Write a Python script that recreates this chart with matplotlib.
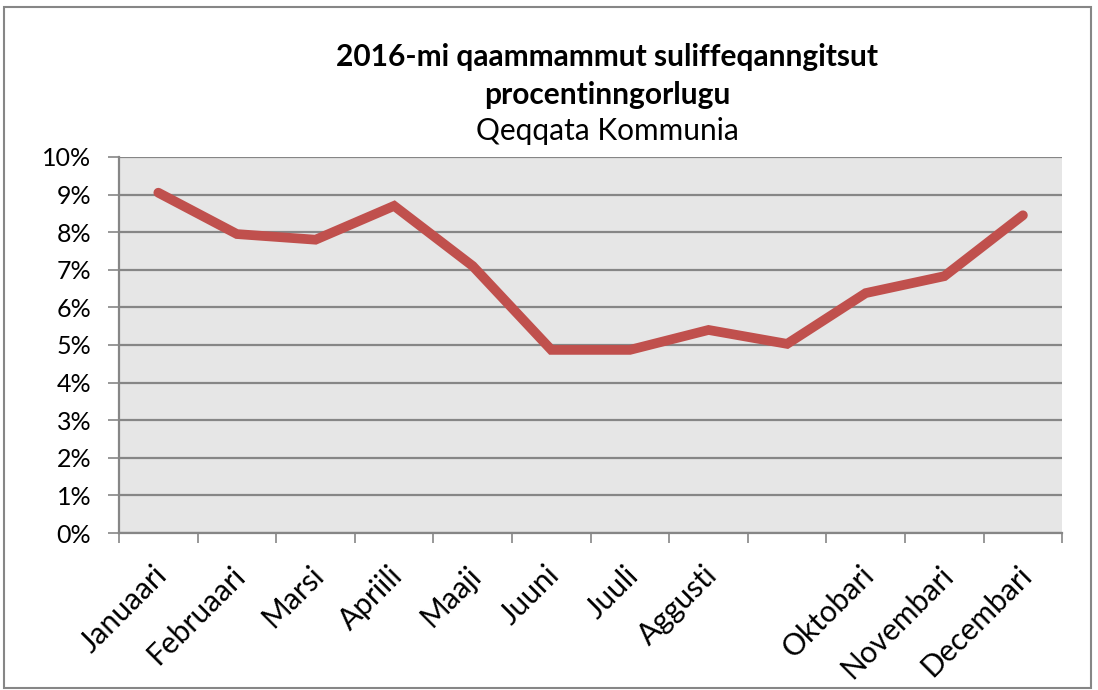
import numpy as np
import matplotlib
matplotlib.use("Agg")
import matplotlib.pyplot as plt
from matplotlib.patches import Rectangle
from matplotlib.transforms import ScaledTranslation

plt.rcParams['font.family'] = ['Lato', 'DejaVu Sans']

# months (september label is blank in the original)
months = ["Januaari", "Februaari", "Marsi", "Apriili", "Maaji", "Juuni",
          "Juuli", "Aggusti", "", "Oktobari", "Novembari", "Decembari"]
rate = [9.05, 7.95, 7.80, 8.70, 7.10, 4.87, 4.87, 5.40, 5.03, 6.38, 6.83, 8.45]
yticks = list(range(0, 11))

fig = plt.figure(figsize=(10.98, 6.9), dpi=100)
ax = fig.add_axes([0.1084, 0.2275, 0.859, 0.545])

x = np.arange(len(months))
ax.plot(x, rate, color="#C0504D", lw=7, solid_capstyle="round",
        solid_joinstyle="miter", zorder=3)

ax.set_facecolor("#E6E6E6")
ax.set_xlim(-0.5, len(months) - 0.5)
ax.set_ylim(0, 10)
ax.set_yticks(yticks)
ax.set_yticklabels([f"{v}%" for v in yticks], fontsize=18)
ax.yaxis.grid(True, color="#868686", lw=1.6)
ax.set_axisbelow(True)

# x ticks between categories, labels at category centres
ax.set_xticks(np.arange(-0.5, len(months), 1.0))
ax.set_xticklabels([])
ax.set_xticks(x, minor=True)
ax.set_xticklabels(months, minor=True, rotation=45, ha="right",
                   rotation_mode="anchor", fontsize=21.5)
ax.tick_params(axis="x", which="minor", length=0, pad=20)
ax.tick_params(axis="x", which="major", length=7, color="#868686", width=1.2)
ax.tick_params(axis="y", length=8, color="#868686", width=1.2, pad=12)
shift = ScaledTranslation(-0.06, 0, fig.dpi_scale_trans)
for lab in ax.get_xticklabels(minor=True):
    lab.set_transform(lab.get_transform() + shift)

for s in ["top", "right"]:
    ax.spines[s].set_visible(False)
for s in ["left", "bottom"]:
    ax.spines[s].set_color("#868686")
    ax.spines[s].set_linewidth(1.6)

fig.text(0.553, 0.917, "2016-mi qaammammut suliffeqanngitsut",
         ha="center", va="center", fontsize=21.5, fontweight="bold")
fig.text(0.553, 0.862, "procentinngorlugu",
         ha="center", va="center", fontsize=21.5, fontweight="bold")
fig.text(0.553, 0.810, "Qeqqata Kommunia",
         ha="center", va="center", fontsize=21.5)

fig.patches.append(Rectangle((0.004, 0.003), 0.99, 0.987, transform=fig.transFigure,
                             fill=False, edgecolor="#868686", lw=1.5))

fig.savefig("out.png", dpi=100)
